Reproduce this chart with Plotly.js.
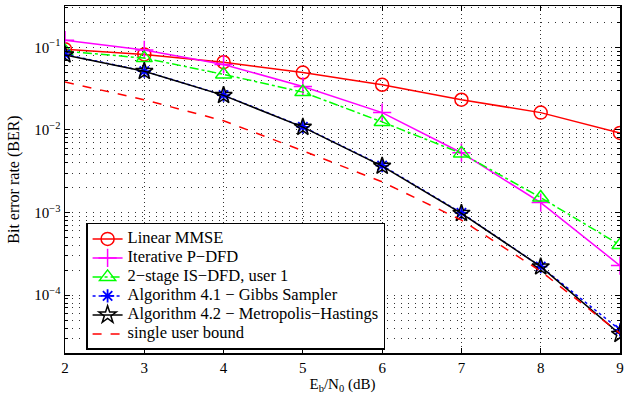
<!DOCTYPE html>
<html>
<head>
<meta charset="utf-8">
<script src="https://cdn.plot.ly/plotly-3.0.1.min.js"></script>
<style>html,body{margin:0;padding:0;background:#fff}#chart{width:638px;height:400px}</style>
</head>
<body>
<div id="chart"></div>
<script>
const ebn0 = [2, 3, 4, 5, 6, 7, 8, 9];
const linearMMSE = [0.095, 0.082, 0.066, 0.0495, 0.0352, 0.0232, 0.0162, 0.0092];
const iterativePDFD = [0.122, 0.093, 0.062, 0.0336, 0.0162, 0.0053, 0.00132, 0.000228];
const twoStageISDFD = [0.09, 0.074, 0.047, 0.0287, 0.0125, 0.0052, 0.00152, 0.000404];
const gibbs = [0.082, 0.0514, 0.0264, 0.0109, 0.0037, 0.00099, 0.000222, 0.000038];
const metropolis = [0.081, 0.0512, 0.0262, 0.0108, 0.00365, 0.00098, 0.000221, 0.0000336];
const singleUser = [0.038, 0.0232, 0.0129, 0.0056, 0.00235, 0.00081, 0.000195, 0.0000345];
const names = ["Linear MMSE", "Iterative P\u2212DFD", "2\u2212stage IS\u2212DFD, user 1",
  "Algorithm 4.1 \u2212 Gibbs Sampler", "Algorithm 4.2 \u2212 Metropolis\u2212Hastings", "single user bound"];
const yTickVals = [1e-4, 1e-3, 1e-2, 1e-1];
const yTickText = ["10<sup>\u22124</sup>", "10<sup>\u22123</sup>", "10<sup>\u22122</sup>", "10<sup>\u22121</sup>"];

const F = "Liberation Serif";
const big = s => '<span style="font-size:16.5px">' + s + '</span>';
const traces = [
  {x: ebn0, y: linearMMSE, name: big(names[0]), mode: 'lines+markers',
   line: {color: '#ff0000', width: 1.5}, marker: {symbol: 'circle-open', size: 13, color: '#ff0000', line: {width: 1.5}}},
  {x: ebn0, y: iterativePDFD, name: big(names[1]), mode: 'lines+markers',
   line: {color: '#ff00ff', width: 1.5}, marker: {symbol: 'cross-thin-open', size: 13, color: '#ff00ff', line: {width: 1.5}}},
  {x: ebn0, y: twoStageISDFD, name: big(names[2]), mode: 'lines+markers',
   line: {color: '#00ff00', width: 1.5, dash: 'dashdot'}, marker: {symbol: 'triangle-up-open', size: 14, color: '#00ff00', line: {width: 1.5}}},
  {x: ebn0, y: gibbs, name: big(names[3]), mode: 'lines+markers',
   line: {color: '#0000ff', width: 1.5, dash: 'dot'}, marker: {symbol: 'asterisk-open', size: 11, color: '#0000ff', line: {width: 1.8}}},
  {x: ebn0, y: metropolis, name: big(names[4]), mode: 'lines+markers',
   line: {color: '#000000', width: 1.5}, marker: {symbol: 'star-open', size: 13, color: '#000000', line: {width: 1.5}}},
  {x: ebn0, y: singleUser, name: big(names[5]), mode: 'lines',
   line: {color: '#ff0000', width: 1.5, dash: 'dash'}}
];

const gridColor = '#333';
const layout = {
  width: 638, height: 400,
  margin: {l: 65, r: 18, t: 6, b: 47},
  paper_bgcolor: '#fff', plot_bgcolor: '#fff',
  font: {family: F, size: 15, color: '#000'},
  showlegend: true,
  legend: {x: 0.038, y: 0.375, xanchor: 'left', yanchor: 'top', bgcolor: '#fff',
    bordercolor: '#000', borderwidth: 1.5, font: {family: F, size: 11, color: '#000'}, tracegroupgap: 0},
  xaxis: {
    range: [2, 9], dtick: 1, tick0: 2,
    showline: true, linecolor: '#000', linewidth: 1.5, mirror: 'ticks',
    ticks: 'inside', ticklen: 5, tickcolor: '#000',
    showgrid: true, gridcolor: gridColor, griddash: '1px,3px', gridwidth: 1,
    zeroline: false, tickfont: {family: F, size: 15},
    title: {text: 'E<sub>b</sub>/N<sub>0</sub> (dB)', font: {family: F, size: 15}, standoff: 4}
  },
  yaxis: {
    type: 'log', range: [-4.7, -0.5],
    tickvals: yTickVals, ticktext: yTickText,
    showline: true, linecolor: '#000', linewidth: 1.5, mirror: 'ticks',
    ticks: 'inside', ticklen: 5, tickcolor: '#000',
    showgrid: true, gridcolor: gridColor, griddash: '1px,6px', gridwidth: 1,
    minor: {dtick: 'D1', ticks: 'inside', ticklen: 3, tickcolor: '#000', showgrid: true,
      gridcolor: gridColor, griddash: '1px,6px', gridwidth: 1},
    zeroline: false, tickfont: {family: F, size: 15},
    title: {text: 'Bit error rate (BER)', font: {family: F, size: 16}, standoff: 10}
  }
};
Plotly.newPlot('chart', traces, layout, {displayModeBar: false, staticPlot: true});
</script>
</body>
</html>
